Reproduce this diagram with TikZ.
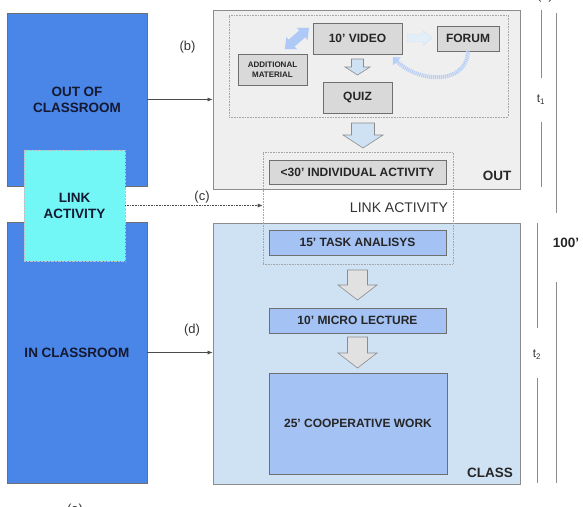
\documentclass[tikz,border=0pt]{standalone}
\usepackage{fontspec}
\setmainfont{Liberation Sans}
\usetikzlibrary{arrows.meta, positioning, bending}

\definecolor{phaseblue}{HTML}{4A86E8}
\definecolor{linkcyan}{HTML}{72F6F6}
\definecolor{outgray}{HTML}{EFEFEF}
\definecolor{classblue}{HTML}{CFE2F3}
\definecolor{taskblue}{HTML}{A4C2F4}
\definecolor{boxgray}{HTML}{D9D9D9}
\definecolor{edgegray}{HTML}{6F6F6F}
\definecolor{textgray}{HTML}{333333}
\definecolor{navytext}{HTML}{141830}

\tikzset{
    pics/blockdown/.style n args={4}{code={%
        \draw[pic actions] (-#2,0) -- (#2,0) -- (#2,#1-#4) -- (#3,#1-#4) -- (0,#1)
            -- (-#3,#1-#4) -- (-#2,#1-#4) -- cycle;}},
    pics/blockboth/.style n args={4}{code={%
        \draw[pic actions] (0,0) -- (#3,#4) -- (#2,#4) -- (#2,#1-#4) -- (#3,#1-#4) -- (0,#1)
            -- (-#3,#1-#4) -- (-#2,#1-#4) -- (-#2,#4) -- (-#3,#4) -- cycle;}}
}

\begin{document}
\begin{tikzpicture}[x=1pt,y=-1pt,inner sep=0pt,
        phase/.style={draw=edgegray, fill=phaseblue, text=navytext, align=center,
            font=\bfseries\fontsize{13.5}{16}\selectfont},
        area/.style={draw=edgegray!80, line width=0.8pt},
        group/.style={draw=gray!70, densely dotted, line width=0.6pt},
        task/.style={draw=edgegray, line width=0.7pt, text=black!85, align=center,
            font=\bfseries\fontsize{12}{14}\selectfont},
        lbl/.style={text=textgray, font=\fontsize{13}{15}\selectfont},
        downarr/.style={draw=edgegray!80, line width=0.6pt},
        timeline/.style={draw=gray!90, line width=1pt},
        link/.style={-{Latex[length=5pt,width=4pt]}, draw=black!70, line width=0.6pt}
    ]
        \useasboundingbox (0,0) rectangle (583,506);

        % left column
        \node[phase, minimum width=140pt, minimum height=173pt] (outcls) at (77,99.5) {OUT OF\\CLASSROOM};
        \node[phase, minimum width=140pt, minimum height=261pt] (incls)  at (77,352.5) {IN CLASSROOM};
        \node[phase, fill=linkcyan, draw=gray!50, densely dotted,
            minimum width=101pt, minimum height=111pt] (linkact) at (74.5,205.5) {LINK\\ACTIVITY};

        % out of class area
        \node[area, fill=outgray, minimum width=307pt, minimum height=179pt] (outbox) at (366.5,99.5) {};
        \node[group, minimum width=279pt, minimum height=102pt] (online) at (368.5,66) {};
        \node[task, fill=boxgray, minimum width=89pt, minimum height=31pt] (video) at (357.5,38.5) {10' VIDEO};
        \node[task, fill=boxgray, minimum width=62pt, minimum height=25pt] (forum) at (468,38.5) {FORUM};
        \node[task, fill=boxgray, minimum width=69pt, minimum height=31pt,
            font=\bfseries\fontsize{8}{9.5}\selectfont] (addmat) at (272.5,69.5) {ADDITIONAL\\MATERIAL};
        \node[task, fill=boxgray, minimum width=69pt, minimum height=31pt] (quiz) at (357.5,97.5) {QUIZ};
        \node[font=\bfseries\fontsize{13.5}{16}\selectfont, text=black!85] (outlbl) at (497,176) {OUT};

        % in class area
        \node[area, fill=classblue, minimum width=307pt, minimum height=261pt] (classbox) at (366.5,353.5) {};
        \node[task, fill=taskblue, minimum width=177pt, minimum height=25pt] (task) at (357.5,242.5) {15' TASK ANALISYS};
        \node[task, fill=taskblue, minimum width=177pt, minimum height=25pt] (micro) at (357.5,320.5) {10' MICRO LECTURE};
        \node[task, fill=taskblue, minimum width=178pt, minimum height=101pt] (coop) at (358,423.5) {25' COOPERATIVE WORK};
        \node[font=\bfseries\fontsize{13.5}{16}\selectfont, text=black!85] (classlbl) at (490,473) {CLASS};

        % link activity
        \node[task, fill=boxgray, minimum width=177pt, minimum height=24pt] (indiv) at (357.5,172) {<30' INDIVIDUAL ACTIVITY};
        \node[group, minimum width=190pt, minimum height=112pt] (linkarea) at (358,208) {};
        \node[text=textgray, font=\fontsize{14}{16}\selectfont] (linklbl) at (399,208) {LINK ACTIVITY};

        % block arrows
        \pic[downarr, fill=classblue] at (357.5,59) {blockdown={16}{6}{12.5}{8}};
        \pic[downarr, fill=classblue] at (363,123) {blockdown={25}{11.5}{20}{13}};
        \pic[downarr, fill=boxgray!80] at (357.5,270) {blockdown={30}{10}{19.5}{15}};
        \pic[downarr, fill=boxgray!80] at (357.5,337) {blockdown={31}{10}{19.5}{15}};
        \pic[rotate=-49, fill=phaseblue!45, draw=phaseblue!35, densely dotted] at (309,28) {blockboth={32}{4.5}{8}{9}};
        \pic[rotate=90, fill=classblue!60, draw=phaseblue!45, densely dotted] at (407,38) {blockdown={25}{4}{7.5}{9}};
        \coordinate (vidend) at (393,57);
        \draw[draw=phaseblue!40, line width=4pt, dash pattern=on 1.2pt off 0.8pt,
            -{Triangle[length=6pt,width=11pt,bend]}]
            (forum.south) .. controls (466,88) and (412,82) .. (vidend);

        % connectors
        \draw[link] (outcls) -- (outbox);
        \draw[link] (incls.east) -- (incls.east -| classbox.west);
        \draw[link, densely dotted] (linkact.east) -- (linkact.east -| linkarea.west);
        \node[lbl] (b) at (187.5,47) {(b)};
        \node[lbl] (c) at (202,197) {(c)};
        \node[lbl] (d) at (192,330) {(d)};
        \node[lbl] (a) at (75,510) {(a)};
        \node[lbl] (e) at (545,-4) {(e)};

        % time lines
        \node[text=textgray, font=\fontsize{12}{14}\selectfont] (t1) at (541,100) {t\textsubscript{1}};
        \node[text=textgray, font=\fontsize{12}{14}\selectfont] (t2) at (537,355) {t\textsubscript{2}};
        \node[font=\bfseries\fontsize{13.5}{16}\selectfont, text=black!85] (total) at (566,243) {100'};
        \coordinate (t1top) at (541,10);   \coordinate (t1bot) at (541,187);
        \coordinate (t2top) at (537,223);  \coordinate (t2bot) at (537,483);
        \coordinate (tottop) at (556,13);  \coordinate (totbot) at (556,483);
        \draw[timeline] (t1top) -- (t1top |- 0,78);
        \draw[timeline] (t1top |- 0,122) -- (t1bot);
        \draw[timeline] (t2top) -- (t2top |- 0,328);
        \draw[timeline] (t2top |- 0,378) -- (t2bot);
        \draw[timeline] (tottop) -- (tottop |- 0,213);
        \draw[timeline] (tottop |- 0,282) -- (totbot);
    \end{tikzpicture}
\end{document}
